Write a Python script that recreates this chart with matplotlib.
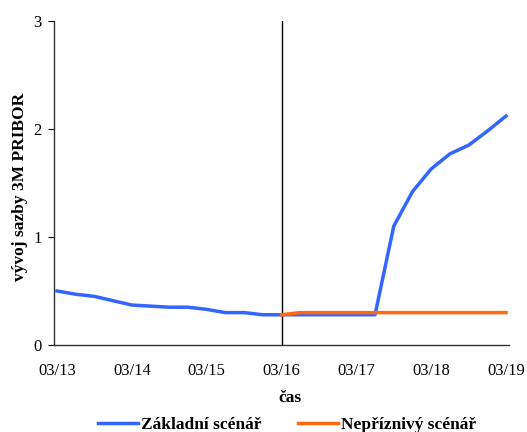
import matplotlib
matplotlib.use("Agg")
import matplotlib.pyplot as plt
import numpy as np

plt.rcParams['font.family'] = ['Liberation Serif', 'DejaVu Serif']

# Quarterly observations from 03/13 to 03/19
quarters = np.arange(25)
tick_labels = ["03/13", "03/14", "03/15", "03/16", "03/17", "03/18", "03/19"]
tick_positions = [0, 4, 8, 12, 16, 20, 24]

baseline = [0.50, 0.47, 0.45, 0.41, 0.37, 0.36, 0.35, 0.35, 0.33, 0.30,
            0.30, 0.28, 0.28, 0.28, 0.28, 0.28, 0.28, 0.28, 1.10, 1.42,
            1.63, 1.77, 1.85, 1.98, 2.12]

adverse_quarters = np.arange(12, 25)
adverse = [0.28, 0.30, 0.30, 0.30, 0.30, 0.30, 0.30, 0.30, 0.30, 0.30,
           0.30, 0.30, 0.30]

forecast_start = 12

W, H = 527, 432
fig = plt.figure(figsize=(W / 100, H / 100), dpi=100)
ax = fig.add_axes([54 / W, 1 - 345 / H, 455 / W, 324 / H])

l1, = ax.plot(quarters, baseline, color='#3366ff', lw=2.5, label='Základní scénář', zorder=3)
l2, = ax.plot(adverse_quarters, adverse, color='#ff6a10', lw=2.5, label='Nepříznivý scénář', zorder=4)
ax.axvline(forecast_start, color='black', lw=1.0, zorder=2)

ax.set_xlim(-0.16, 24.16)
ax.set_ylim(0, 3)
ax.set_yticks([0, 1, 2, 3])
ax.set_xticks(tick_positions)
ax.set_xticklabels(tick_labels)
ax.tick_params(axis='x', length=0, pad=13, labelsize=12)
ax.tick_params(axis='y', length=4, width=0.8, direction='out', pad=5, labelsize=12)

for side in ['top', 'right']:
    ax.spines[side].set_visible(False)
for side in ['left', 'bottom']:
    ax.spines[side].set_color('#333333')
    ax.spines[side].set_linewidth(1.0)

ax.set_ylabel('vývoj sazby 3M PRIBOR', fontsize=12.5, fontweight='bold')
ax.yaxis.set_label_coords(-0.057, 0.488)
ax.set_xlabel('čas', fontsize=12.5, fontweight='bold')
ax.xaxis.set_label_coords(0.519, -0.139)

# Two legend entries placed side by side below the plot
legend_kw = dict(loc='center left', frameon=False, prop={'weight': 'bold', 'size': 12.5},
                 handlelength=2.3, handletextpad=0.15, borderpad=0, borderaxespad=0)
fig.legend(handles=[l1], bbox_to_anchor=(98 / W, 1 - 425 / H), **legend_kw)
fig.legend(handles=[l2], bbox_to_anchor=(298 / W, 1 - 425 / H), **legend_kw)

fig.savefig('out.png', dpi=100)
